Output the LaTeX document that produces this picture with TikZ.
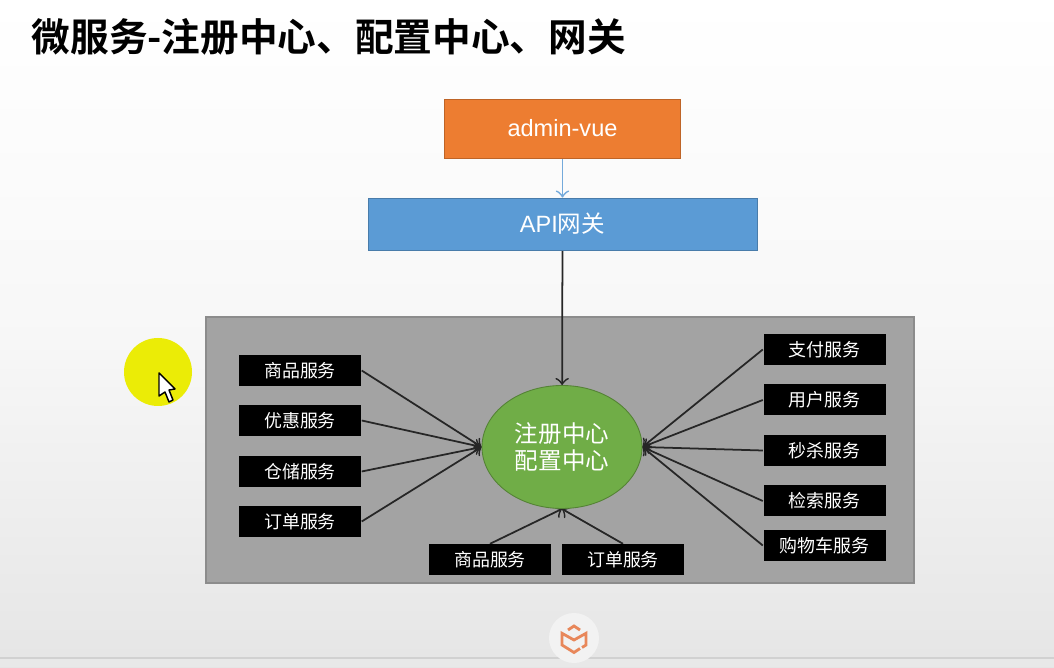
\documentclass[tikz,border=0pt]{standalone}
\usepackage{fontspec}
\setmainfont{Liberation Sans}
\newfontfamily\cjk{Noto Sans CJK SC}[BoldFont={Noto Sans CJK SC Bold}]
\usetikzlibrary{shapes.geometric}
\usetikzlibrary{shadings}
\pgfdeclarelayer{backlayer}
\pgfdeclarelayer{edgelayer}
\pgfdeclarelayer{nodelayer}
\pgfsetlayers{backlayer,edgelayer,nodelayer,main}
\definecolor{vueorange}{HTML}{ED7D31}
\definecolor{gateblue}{HTML}{5B9BD5}
\definecolor{hubgreen}{HTML}{70AD47}
\definecolor{logoorange}{HTML}{E8875A}
\tikzstyle{none}=[inner sep=0pt]
\tikzstyle{title}=[inner sep=0pt,anchor=west,font=\cjk\bfseries\fontsize{11pt}{13pt}\selectfont]
\tikzstyle{entry}=[rectangle,inner sep=0pt,fill=vueorange,draw=vueorange!80!black,line width=0.25pt,minimum width=2.36cm,minimum height=0.59cm,text=white,font=\fontsize{6.7pt}{8pt}\selectfont]
\tikzstyle{gateway}=[rectangle,inner sep=0pt,fill=gateblue,draw=gateblue!80!black,line width=0.25pt,minimum width=3.89cm,minimum height=0.52cm,text=white,font=\fontsize{6.7pt}{8pt}\selectfont]
\tikzstyle{panel}=[rectangle,inner sep=0pt,fill=black!36,draw=black!45,line width=0.3pt,minimum width=7.08cm,minimum height=2.66cm]
\tikzstyle{hub}=[ellipse,inner sep=0pt,fill=hubgreen,draw=hubgreen!75!black,line width=0.25pt,minimum width=1.6cm,minimum height=1.23cm,text=white,align=center,font=\cjk\fontsize{6.7pt}{7.6pt}\selectfont]
\tikzstyle{service}=[rectangle,inner sep=0pt,fill=black,minimum width=1.22cm,minimum height=0.31cm,text=white,font=\cjk\fontsize{5.1pt}{6pt}\selectfont]
\tikzstyle{pointer}=[circle,inner sep=0pt,fill=yellow!92!green,minimum size=0.68cm]
\tikzstyle{badge}=[circle,inner sep=0pt,fill=black!5,minimum size=0.5cm]
\tikzstyle{lightlink}=[->,draw=gateblue!85!white,line width=0.5pt]
\tikzstyle{link}=[->,draw=black!85,line width=0.5pt]
\begin{document}
\begin{tikzpicture}
	\useasboundingbox (0, 0) rectangle (10.54, 6.67);
	\begin{pgfonlayer}{backlayer}
		\shade [top color=white,bottom color=black!10,middle color=black!3] (0, 0) rectangle (10.54, 6.67);
		\fill [black!9] (0, 0) rectangle (10.54, 0.09);
		\draw [black!18,line width=0.4pt] (0, 0.09) to (10.54, 0.09);
		\node [style=panel] (14) at (5.6, 2.17) {};
	\end{pgfonlayer}
	\begin{pgfonlayer}{nodelayer}
		\node [style=title] (0) at (0.31, 6.3) {微服务-注册中心、配置中心、网关};
		\node [style=entry] (1) at (5.625, 5.385) {admin-vue};
		\node [style=gateway] (2) at (5.625, 4.43) {API{\cjk 网关}};
		\node [style=hub] (3) at (5.62, 2.2) {注册中心\\配置中心};
		\node [style=service] (4) at (3, 2.965) {商品服务};
		\node [style=service] (5) at (3, 2.465) {优惠服务};
		\node [style=service] (6) at (3, 1.955) {仓储服务};
		\node [style=service] (7) at (3, 1.455) {订单服务};
		\node [style=service] (8) at (4.9, 1.07) {商品服务};
		\node [style=service] (9) at (6.23, 1.07) {订单服务};
		\node [style=service] (10) at (8.245, 3.175) {支付服务};
		\node [style=service] (11) at (8.245, 2.67) {用户服务};
		\node [style=service] (12) at (8.245, 2.165) {秒杀服务};
		\node [style=service] (13) at (8.245, 1.66) {检索服务};
		\node [style=service] (15) at (8.245, 1.215) {购物车服务};
		\node [style=pointer] (16) at (1.58, 2.95) {};
		\node [style=badge] (17) at (5.74, 0.29) {};
	\end{pgfonlayer}
	\begin{pgfonlayer}{edgelayer}
		\draw [style=lightlink] (1) to (2);
		\draw [style=link] (2) to (3);
		\draw [style=link] (4.east) to (3.west);
		\draw [style=link] (5.east) to (3.west);
		\draw [style=link] (6.east) to (3.west);
		\draw [style=link] (7.east) to (3.west);
		\draw [style=link] (8.north) to (3.south);
		\draw [style=link] (9.north) to (3.south);
		\draw [style=link] (10.west) to (3.east);
		\draw [style=link] (11.west) to (3.east);
		\draw [style=link] (12.west) to (3.east);
		\draw [style=link] (13.west) to (3.east);
		\draw [style=link] (15.west) to (3.east);
	\end{pgfonlayer}
	\fill [white,draw=black,line width=0.4pt,line join=round] (1.59, 2.94) -- (1.59, 2.71) -- (1.65, 2.75) -- (1.69, 2.65) -- (1.73, 2.67) -- (1.69, 2.77) -- (1.75, 2.78) -- cycle;
	\draw [logoorange,line width=0.8pt] (5.68, 0.37) -- (5.74, 0.41) -- (5.8, 0.37);
	\draw [logoorange,line width=0.8pt] (5.8, 0.185) -- (5.74, 0.145) -- (5.62, 0.22) -- (5.62, 0.337) -- (5.74, 0.27) -- (5.86, 0.337) -- (5.86, 0.22) -- (5.82, 0.195);
\end{tikzpicture}
\end{document}
